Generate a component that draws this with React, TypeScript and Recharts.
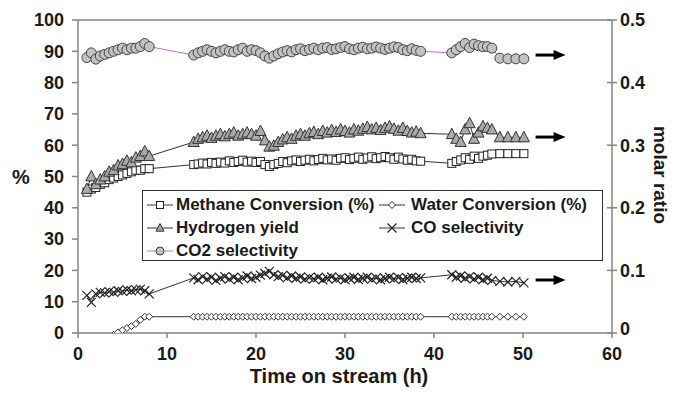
import React from "react";
import {
  ComposedChart,
  Line,
  Scatter,
  XAxis,
  YAxis,
  Legend,
  ReferenceLine,
} from "recharts";

const FONT = "'Liberation Sans', Arial, sans-serif";
const AXIS_GRAY = "#858585";

// time on stream (h)
const time = [
  1, 1.5, 2, 2.5, 3, 3.5, 4, 4.5, 5, 5.5, 6, 6.5, 7, 7.5, 8,
  13, 13.5, 14, 14.5, 15, 15.5, 16, 16.5, 17, 17.5, 18, 18.5, 19,
  19.5, 20, 20.5, 21, 21.5, 22, 22.5, 23, 23.5, 24, 24.5, 25, 25.5,
  26, 26.5, 27, 27.5, 28, 28.5, 29, 29.5, 30, 30.5, 31, 31.5, 32,
  32.5, 33, 33.5, 34, 34.5, 35, 35.5, 36, 36.5, 37, 37.5, 38, 38.5,
  42, 42.5, 43, 43.5, 44, 44.5, 45, 45.5, 46, 46.5, 47.4, 48.3, 49.2, 50.1,
];

// left axis, %
const methaneConversion = [
  45, 46, 46.5, 47.5, 48, 49, 49.5, 50, 50.5, 51, 51.5, 52, 52, 52.5, 52.5,
  53.8, 54, 54.3, 54, 54.5, 54.2, 54.6, 54.3, 55, 54.5, 54.8, 55.2, 54.6,
  54.9, 54.5, 54.8, 53.8, 53.2, 53.8, 54.2, 54.8, 54.4, 55, 55.3, 54.8, 55.2,
  55.5, 55, 55.4, 55.8, 55.3, 55.6, 55.2, 55.8, 56, 55.4, 55.8, 56.2, 55.5,
  55.9, 56.3, 55.7, 56, 56.4, 56, 55.5, 56.2, 55.6, 55.2, 55.5, 55, 54.9,
  54.2, 54.8, 55.3, 56, 55.5, 56.5, 55.8, 56.5, 56.8, 57.2, 57.3, 57.3, 57.3, 57.3,
];

const waterConversion = [
  null, null, null, null, null, -1.5, -0.6, 0.2, 0.9, 1.6, 2.2, 2.9, 4.2, 5.2, 5.2,
  5.2, 5.2, 5.2, 5.2, 5.2, 5.2, 5.2, 5.2, 5.2, 5.2, 5.2, 5.2, 5.2,
  5.2, 5.2, 5.2, 5.2, 5.2, 5.2, 5.2, 5.2, 5.2, 5.2, 5.2, 5.2, 5.2,
  5.2, 5.2, 5.2, 5.2, 5.2, 5.2, 5.2, 5.2, 5.2, 5.2, 5.2, 5.2, 5.2,
  5.2, 5.2, 5.2, 5.2, 5.2, 5.2, 5.2, 5.2, 5.2, 5.2, 5.2, 5.2, 5.2,
  5.2, 5.2, 5.2, 5.2, 5.2, 5.2, 5.2, 5.2, 5.2, 5.2, 5.2, 5.2, 5.2, 5.2,
];

// right axis, molar ratio
const hydrogenYield = [
  0.23, 0.25, 0.2375, 0.245, 0.25, 0.2575, 0.26, 0.2675, 0.27, 0.275, 0.2725, 0.28, 0.2825, 0.29, 0.2825,
  0.305, 0.31, 0.3125, 0.315, 0.3115, 0.315, 0.3175, 0.314, 0.3175, 0.32, 0.315, 0.3175, 0.32,
  0.3175, 0.315, 0.3225, 0.3075, 0.2975, 0.299, 0.305, 0.309, 0.3125, 0.31, 0.315, 0.3175, 0.315,
  0.319, 0.321, 0.3175, 0.3225, 0.32, 0.324, 0.321, 0.325, 0.3225, 0.32, 0.325, 0.323, 0.326,
  0.329, 0.325, 0.3275, 0.324, 0.3275, 0.33, 0.326, 0.323, 0.3275, 0.3225, 0.32, 0.3215, 0.319,
  0.3175, 0.31, 0.305, 0.325, 0.335, 0.31, 0.32, 0.33, 0.3275, 0.325, 0.3125, 0.3125, 0.3125, 0.3125,
];

const coSelectivity = [
  0.06, 0.049, 0.0625, 0.065, 0.064, 0.066, 0.065, 0.0675, 0.0665, 0.069, 0.0675, 0.069, 0.07, 0.0675, 0.0625,
  0.088, 0.085, 0.09, 0.086, 0.089, 0.084, 0.0875, 0.09, 0.086, 0.089, 0.085, 0.088, 0.091,
  0.087, 0.089, 0.0925, 0.095, 0.0985, 0.093, 0.09, 0.092, 0.088, 0.091, 0.0875, 0.0895, 0.086,
  0.0885, 0.0865, 0.089, 0.085, 0.0875, 0.0895, 0.086, 0.088, 0.085, 0.0875, 0.089, 0.0855, 0.0875,
  0.089, 0.086, 0.088, 0.085, 0.087, 0.089, 0.0865, 0.0885, 0.0855, 0.0875, 0.089, 0.087, 0.088,
  0.093, 0.089, 0.091, 0.0875, 0.09, 0.0865, 0.089, 0.085, 0.0875, 0.084, 0.0825, 0.0815, 0.0825, 0.08,
];

const co2Selectivity = [
  0.44, 0.4475, 0.4375, 0.4425, 0.445, 0.4475, 0.45, 0.4525, 0.455, 0.4525, 0.455, 0.455, 0.4575, 0.4625, 0.4575,
  0.444, 0.4475, 0.45, 0.4525, 0.45, 0.4475, 0.45, 0.4525, 0.45, 0.449, 0.4525, 0.455, 0.45,
  0.4525, 0.451, 0.4475, 0.4425, 0.439, 0.4425, 0.446, 0.449, 0.451, 0.449, 0.4525, 0.454, 0.451,
  0.453, 0.455, 0.4525, 0.455, 0.456, 0.453, 0.454, 0.456, 0.4575, 0.454, 0.4525, 0.455, 0.4565,
  0.454, 0.455, 0.457, 0.455, 0.453, 0.455, 0.457, 0.456, 0.4525, 0.451, 0.454, 0.4515, 0.45,
  0.4475, 0.4525, 0.4575, 0.4625, 0.456, 0.4615, 0.459, 0.4575, 0.4575, 0.455, 0.439, 0.438, 0.438, 0.438,
];

// arrows pointing the ratio series to the right axis
const arrowMarks = [
  { t: 53.1, ratio: 0.444 },
  { t: 53.1, ratio: 0.313 },
  { t: 53.1, ratio: 0.0847 },
];

const xTicks = [0, 10, 20, 30, 40, 50, 60];
const pctTicks = [0, 10, 20, 30, 40, 50, 60, 70, 80, 90, 100];
const ratioTicks = [0, 0.1, 0.2, 0.3, 0.4, 0.5];

const rows = time.map((t, i) => ({
  t,
  methane: methaneConversion[i],
  water: waterConversion[i],
  hydrogen: hydrogenYield[i],
  co: coSelectivity[i],
  co2: co2Selectivity[i],
}));

type Pt = { cx?: number | null; cy?: number | null; index?: number };

const square = (cx: number, cy: number, s: number) => (
  <rect x={cx - s} y={cy - s} width={s * 2} height={s * 2} fill="#fff" stroke="#222" strokeWidth={1} />
);
const diamond = (cx: number, cy: number, s: number) => (
  <polygon
    points={`${cx},${cy - s} ${cx + s},${cy} ${cx},${cy + s} ${cx - s},${cy}`}
    fill="#fff"
    stroke="#333"
    strokeWidth={1}
  />
);
const triangle = (cx: number, cy: number, s: number) => (
  <polygon
    points={`${cx},${cy - s * 1.1} ${cx + s},${cy + s * 0.8} ${cx - s},${cy + s * 0.8}`}
    fill="#a9a9a9"
    stroke="#333"
    strokeWidth={1}
  />
);
const cross = (cx: number, cy: number, s: number) => (
  <path
    d={`M${cx - s},${cy - s}L${cx + s},${cy + s}M${cx - s},${cy + s}L${cx + s},${cy - s}`}
    stroke="#222"
    strokeWidth={1.2}
    fill="none"
  />
);
const circle = (cx: number, cy: number, s: number) => (
  <circle cx={cx} cy={cy} r={s} fill="#c2c2c2" stroke="#444" strokeWidth={1} />
);

const makeDot =
  (draw: (cx: number, cy: number, s: number) => React.ReactElement, size: number) =>
  ({ cx, cy, index }: Pt) =>
    cx == null || cy == null ? (
      <g key={`d-${index}`} />
    ) : (
      <g key={`d-${index}`}>{draw(cx, cy, size)}</g>
    );

const ArrowShape = ({ cx, cy }: Pt) => {
  if (cx == null || cy == null) return <g />;
  return (
    <g>
      <line x1={cx - 15} x2={cx + 4} y1={cy} y2={cy} stroke="#000" strokeWidth={3} />
      <polygon points={`${cx + 15},${cy} ${cx + 3},${cy - 5} ${cx + 3},${cy + 5}`} fill="#000" />
    </g>
  );
};

const tickText = { fontFamily: FONT, fontWeight: 700, fontSize: 18, fill: "#1a1a1a" };

const LeftTick = ({ x, y, payload }: any) => (
  <g>
    <line x1={x - 6} x2={x} y1={y} y2={y} stroke={AXIS_GRAY} strokeWidth={1.5} />
    <text x={x - 14} y={y} dy="0.35em" textAnchor="end" style={tickText}>
      {payload.value}
    </text>
  </g>
);

const RightTick = ({ x, y, payload }: any) => (
  <g>
    <line x1={x - 5} x2={x + 5} y1={y} y2={y} stroke={AXIS_GRAY} strokeWidth={1.5} />
    <text x={x + 8} y={payload.value === 0 ? y - 4 : y} dy="0.35em" textAnchor="start" style={tickText}>
      {payload.value}
    </text>
  </g>
);

const BottomTick = ({ x, y, payload }: any) => (
  <g>
    <line x1={x} x2={x} y1={y} y2={y + 5} stroke={AXIS_GRAY} strokeWidth={1.5} />
    <text x={x} y={y + 27} textAnchor="middle" style={tickText}>
      {payload.value}
    </text>
  </g>
);

const legendItems = [
  { name: "Methane Conversion (%)", draw: square, size: 3.5, color: "#333", col: 0, row: 0 },
  { name: "Water Conversion (%)", draw: diamond, size: 3.5, color: "#333", col: 1, row: 0 },
  { name: "Hydrogen yield", draw: triangle, size: 4, color: "#333", col: 0, row: 1 },
  { name: "CO selectivity", draw: cross, size: 4.5, color: "#333", col: 1, row: 1 },
  { name: "CO2 selectivity", draw: circle, size: 4, color: "#c86cc8", col: 0, row: 2 },
];

const LegendBox = () => (
  <div
    style={{
      position: "relative",
      width: 461,
      height: 71,
      boxSizing: "border-box",
      border: "1px solid #333",
      background: "#fff",
      fontFamily: FONT,
      fontWeight: 700,
      fontSize: 17,
      color: "#1a1a1a",
    }}
  >
    {legendItems.map((it) => {
      const left = it.col === 0 ? 4 : 236;
      const top = 3 + it.row * 23;
      return (
        <div
          key={it.name}
          style={{ position: "absolute", left, top, height: 22, display: "flex", alignItems: "center", whiteSpace: "nowrap" }}
        >
          <svg width={26} height={14} style={{ marginRight: it.col === 0 ? 3 : 6 }}>
            <line x1={0} x2={26} y1={7} y2={7} stroke={it.color} strokeWidth={1} />
            {it.draw(13, 7, it.size)}
          </svg>
          <span>{it.name}</span>
        </div>
      );
    })}
  </div>
);

export default function App() {
  return (
    <div style={{ position: "absolute", left: 0, top: 0, width: 675, height: 393, background: "#fff" }}>
      <ComposedChart width={675} height={393} data={rows} margin={{ top: 20, right: 0, bottom: 0, left: 0 }}>
        <XAxis
          dataKey="t"
          type="number"
          domain={[0, 60]}
          ticks={xTicks}
          interval={0}
          height={60}
          tickSize={0}
          tickMargin={0}
          tickLine={false}
          tick={<BottomTick />}
          axisLine={{ stroke: AXIS_GRAY, strokeWidth: 1.5 }}
          label={{
            content: () => (
              <text x={339} y={383} textAnchor="middle" style={{ fontFamily: FONT, fontWeight: 700, fontSize: 20, fill: "#1a1a1a" }}>
                Time on stream (h)
              </text>
            ),
          }}
        />
        <YAxis
          yAxisId="pct"
          domain={[0, 100]}
          ticks={pctTicks}
          interval={0}
          allowDataOverflow
          width={78}
          tickSize={0}
          tickMargin={0}
          tickLine={false}
          tick={<LeftTick />}
          axisLine={{ stroke: AXIS_GRAY, strokeWidth: 1.5 }}
          label={{
            content: () => (
              <text x={21} y={177} dy="0.35em" textAnchor="middle" style={{ fontFamily: FONT, fontWeight: 700, fontSize: 20, fill: "#1a1a1a" }}>
                %
              </text>
            ),
          }}
        />
        <YAxis
          yAxisId="ratio"
          orientation="right"
          domain={[0, 0.5]}
          ticks={ratioTicks}
          interval={0}
          width={63}
          tickSize={0}
          tickMargin={0}
          tickLine={false}
          tick={<RightTick />}
          axisLine={{ stroke: AXIS_GRAY, strokeWidth: 1.5 }}
          label={{
            content: () => (
              <text
                x={661}
                y={175}
                dy="0.35em"
                textAnchor="middle"
                transform="rotate(90 661 175)"
                style={{ fontFamily: FONT, fontWeight: 700, fontSize: 19, fill: "#1a1a1a" }}
              >
                molar ratio
              </text>
            ),
          }}
        />
        <ReferenceLine yAxisId="pct" y={100} stroke={AXIS_GRAY} strokeWidth={1.5} />

        <Line
          yAxisId="pct"
          dataKey="methane"
          stroke="#333"
          strokeWidth={1}
          dot={makeDot(square, 4)}
          activeDot={false}
          isAnimationActive={false}
        />
        <Line
          yAxisId="pct"
          dataKey="water"
          stroke="#333"
          strokeWidth={1}
          dot={makeDot(diamond, 3.5)}
          activeDot={false}
          isAnimationActive={false}
        />
        <Line
          yAxisId="ratio"
          dataKey="hydrogen"
          stroke="#333"
          strokeWidth={1}
          dot={makeDot(triangle, 5.5)}
          activeDot={false}
          isAnimationActive={false}
        />
        <Line
          yAxisId="ratio"
          dataKey="co"
          stroke="#333"
          strokeWidth={1}
          dot={makeDot(cross, 4.5)}
          activeDot={false}
          isAnimationActive={false}
        />
        <Line
          yAxisId="ratio"
          dataKey="co2"
          stroke="#c86cc8"
          strokeWidth={1}
          dot={makeDot(circle, 5)}
          activeDot={false}
          isAnimationActive={false}
        />
        <Scatter
          yAxisId="ratio"
          data={arrowMarks}
          dataKey="ratio"
          shape={ArrowShape}
          isAnimationActive={false}
        />
        <Legend
          layout="horizontal"
          verticalAlign="middle"
          align="center"
          wrapperStyle={{ left: 142, top: 190, width: 461, height: 71 }}
          content={() => <LegendBox />}
        />
      </ComposedChart>
    </div>
  );
}
